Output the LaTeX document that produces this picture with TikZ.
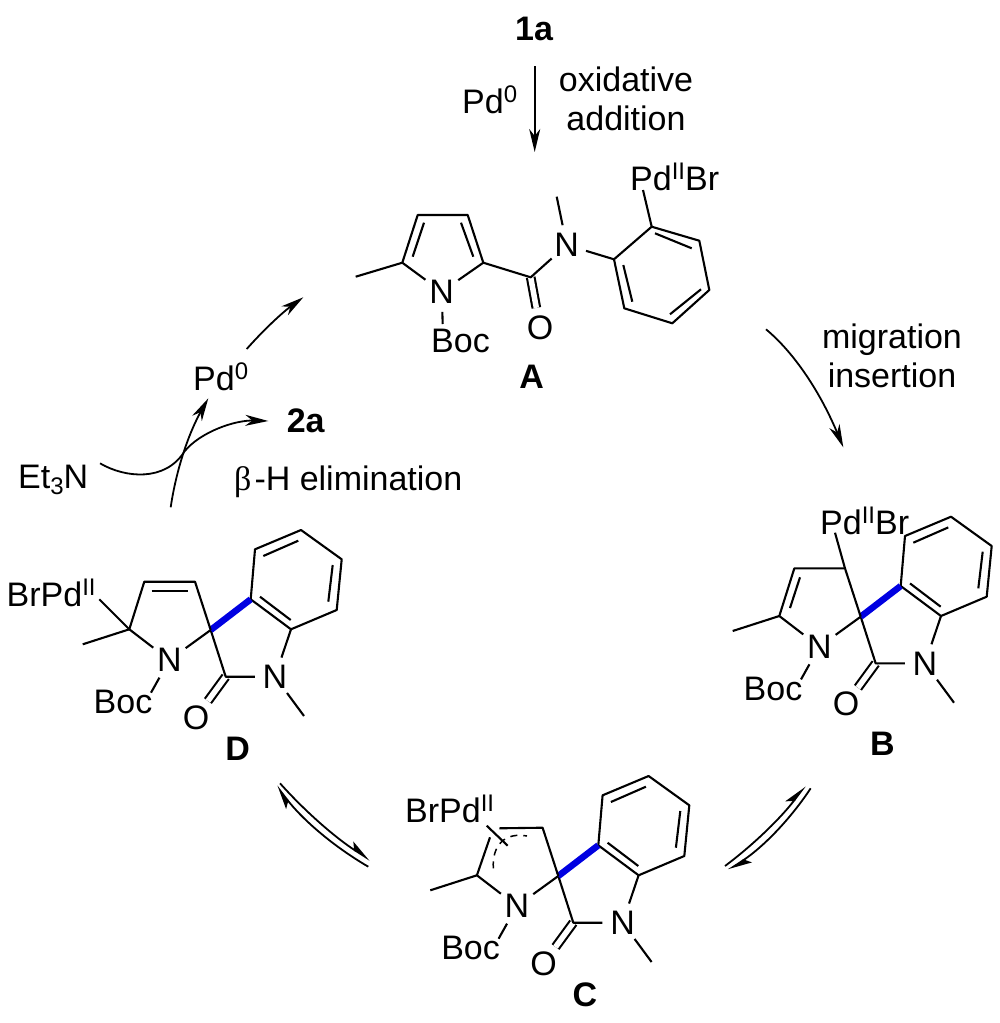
\documentclass[tikz,border=0pt]{standalone}
\usepackage{fontspec}
\setmainfont{Liberation Sans}
\newfontfamily\betafont{Liberation Serif}
\usetikzlibrary{arrows.meta}
\newcommand{\supr}[1]{\raisebox{11pt}{\fontsize{24}{24}\selectfont #1}}
\newcommand{\subr}[1]{\raisebox{-6pt}{\fontsize{24}{24}\selectfont #1}}
\tikzset{
  bond/.style={line width=2.1pt,line join=round},
  blue bond/.style={line width=6.5pt,draw=bluebond},
  cdouble/.style={line width=2.1pt,double,double distance=5.5pt},
  lbl/.style={inner sep=0pt,font=\fontsize{34}{40}\selectfont},
  cmpd/.style={inner sep=0pt,font=\fontsize{34}{40}\selectfont\bfseries},
  atom/.style={circle,inner sep=0pt,minimum size=40pt,font=\fontsize{34}{40}\selectfont},
  arr/.style={line width=1.8pt,-{Stealth[length=23pt,width=11pt,inset=7pt]}},
  harp/.style={line width=1.8pt,-{Stealth[harpoon,length=21pt,width=13pt,inset=5pt]}},
  pics/spirocore/.style={code={
    \coordinate (cme) at (82.7,644.3);
    \coordinate (c5) at (129.3,629.3);
    \coordinate (c4) at (144.3,581.7);
    \coordinate (c3) at (195,581.7);
    \coordinate (spiro) at (210.7,630);
    \coordinate (co) at (225.7,676.7);
    \coordinate (bt) at (151,692.7);
    \coordinate (me2) at (304,716);
    \coordinate (c3a) at (250.7,599.3);
    \coordinate (c7a) at (291,629.3);
    \coordinate (c7) at (336.7,610);
    \coordinate (c6) at (341.7,559.3);
    \coordinate (c5b) at (301,530);
    \coordinate (c4b) at (255,549.3);
    \node[atom] (N) at (169.3,660) {N};
    \node[atom] (N2) at (275,676.7) {N};
    \node[atom] (O) at (196,717.3) {O};
    \node[lbl,anchor=base west] (boc) at (93.5,713.3) {Boc};
    \draw[cdouble] (co) -- (O);
    \draw[bond] (c5) -- (cme);
    \draw[bond] (c5) -- (N);
    \draw[bond] (spiro) -- (N);
    \draw[bond] (N) -- (bt);
    \draw[bond] (spiro) -- (co) -- (N2);
    \draw[bond] (N2) -- (c7a);
    \draw[bond] (N2) -- (me2);
    \draw[bond] (c3a) -- (c7a) -- (c7) -- (c6) -- (c5b) -- (c4b) -- cycle;
    \draw[bond] (260,596.7) -- (290.7,620);
    \draw[bond] (328.3,601.7) -- (332.7,565);
    \draw[bond] (263.3,556) -- (298.3,540.7);
    \draw[blue bond] (spiro) -- (c3a);
  }}
}
\definecolor{bluebond}{RGB}{0,0,225}
\begin{document}
\begin{tikzpicture}[x=1pt,y=-1pt]
\useasboundingbox (0,0) rectangle (1000,1023);

% top
\node[cmpd,anchor=base] (t1a) at (534,40) {1a};
\coordinate (a1s) at (534.7,66);
\coordinate (a1e) at (534.7,152);
\draw[arr] (a1s) -- (a1e);
\node[lbl,anchor=base west] (pdz) at (462,113) {Pd\supr{0}};
\node[lbl,anchor=base] (ox) at (626,91) {oxidative};
\node[lbl,anchor=base] (add) at (626,130) {addition};

% structure A
\coordinate (ame) at (355.7,276.7);
\coordinate (ac5) at (402.3,262.7);
\coordinate (ac4) at (417.7,215);
\coordinate (ac3) at (467.7,215);
\coordinate (ac2) at (483.3,262.7);
\coordinate (aco) at (530.7,277.3);
\coordinate (ab1) at (651.7,226.7);
\coordinate (ab2) at (699.3,240.7);
\coordinate (ab3) at (709.3,290);
\coordinate (ab4) at (672.3,323.3);
\coordinate (ab5) at (624.3,308.3);
\coordinate (ab6) at (614,259.3);
\coordinate (amen) at (556.7,196.7);
\coordinate (apd) at (643,190);
\coordinate (abt) at (442.7,324);
\node[atom] (aN) at (441.7,291.7) {N};
\node[atom] (aN2) at (566.7,245) {N};
\node[atom] (aO) at (540,327.7) {O};
\node[lbl,anchor=base west] (aboc) at (431,352.7) {Boc};
\node[lbl,anchor=base west] (apdbr) at (630,190) {Pd\supr{II}Br};
\node[cmpd,anchor=base] (lA) at (531.7,388) {A};
\draw[cdouble] (aco) -- (aO);
\draw[bond] (ame) -- (ac5) -- (ac4) -- (ac3) -- (ac2) -- (aco) -- (aN2);
\draw[bond] (ac5) -- (aN);
\draw[bond] (ac2) -- (aN);
\draw[bond] (aN) -- (abt);
\draw[bond] (aN2) -- (amen);
\draw[bond] (aN2) -- (ab6);
\draw[bond] (ab1) -- (apd);
\draw[bond] (ab1) -- (ab2) -- (ab3) -- (ab4) -- (ab5) -- (ab6) -- cycle;
\draw[bond] (424,222.7) -- (412.7,256.7);
\draw[bond] (461,222.7) -- (473.3,256.7);
\draw[bond] (655,233.3) -- (691.7,248.3);
\draw[bond] (701,289.3) -- (670,314.3);
\draw[bond] (623.3,265) -- (632.3,301.7);

% migration arrow
\coordinate (ms) at (766,329.3);
\coordinate (me) at (843.3,447.3);
\draw[arr] (ms) .. controls (794.5,353) and (820.4,392.5) .. (me);
\node[lbl,anchor=base] (mig) at (892,348.3) {migration};
\node[lbl,anchor=base] (ins) at (892,387.3) {insertion};

% structure B
\pic (b) at (650,-13.3) {spirocore};
\coordinate (bp) at (835,532.7);
\node[lbl,anchor=base west] (bpdbr) at (820,534.3) {Pd\supr{II}Br};
\node[cmpd,anchor=base] (lB) at (882.3,755) {B};
\draw[bond] (bc5) -- (bc4) -- (bc3) -- (bspiro);
\draw[bond] (bc3) -- (bp);
\draw[bond] (800,577.3) -- (790,608);

% structure C
\pic (c) at (347.6,246) {spirocore};
\coordinate (cp) at (486.7,825.7);
\coordinate (cp2) at (507.7,845.7);
\coordinate (ctl) at (490,837.3);
\coordinate (ctr) at (499.3,828.3);
\node[lbl,anchor=base west] (cbrpd) at (405,822.7) {BrPd\supr{II}};
\node[cmpd,anchor=base] (lC) at (585,1006) {C};
\draw[bond] (cc5) -- (ctl);
\draw[bond] (ctr) -- (cc3) -- (cspiro);
\draw[bond] (cp) -- (cp2);
\draw[line width=1.5pt,dash pattern=on 7pt off 6pt] (493.3,868.3) .. controls (492,845) and (505,832) .. (527,836);

% structure D
\pic (d) at (0,0) {spirocore};
\coordinate (dp) at (99.3,599.3);
\node[lbl,anchor=base west] (dbrpd) at (6.5,606.7) {BrPd\supr{II}};
\node[cmpd,anchor=base] (lD) at (237.7,760) {D};
\draw[bond] (dc5) -- (dc4) -- (dc3) -- (dspiro);
\draw[bond] (dc5) -- (dp);
\draw[bond] (151.7,590.7) -- (188.3,590.7);

% equilibria
\coordinate (e1a) at (280,783.3);
\coordinate (e1b) at (370,860);
\coordinate (e2a) at (368.3,866.7);
\coordinate (e2b) at (276.7,786);
\draw[harp] (e1a) .. controls (306.5,812.9) and (336.5,838.5) .. (e1b);
\draw[harp] (e2a) .. controls (332.6,845.9) and (302,819) .. (e2b);
\coordinate (e3a) at (725,866);
\coordinate (e3b) at (805,786);
\coordinate (e4a) at (810.7,788.3);
\coordinate (e4b) at (728.3,870);
\draw[harp] (e3a) .. controls (755.5,843.1) and (782.1,816.5) .. (e3b);
\draw[harp] (e4a) .. controls (788.9,821.2) and (761.4,848.4) .. (e4b);

% left part
\node[lbl,anchor=base west] (pd0) at (193,390) {Pd\supr{0}};
\node[cmpd,anchor=base] (t2a) at (305.7,432.7) {2a};
\node[lbl,anchor=base west] (et) at (18,488.3) {Et\subr{3}N};
\node[lbl,anchor=base west] (beta) at (234,490.7) {{\betafont β}\kern3pt-H elimination};
\coordinate (p1s) at (246.7,349);
\coordinate (p1e) at (303.3,297.3);
\draw[arr] (p1s) .. controls (263.8,329.7) and (282.5,312.4) .. (p1e);
\coordinate (p2s) at (170.7,507.3);
\coordinate (p2e) at (208.3,398.3);
\draw[arr] (p2s) .. controls (176.2,469.5) and (188.8,433) .. (p2e);
\coordinate (p3s) at (100,463.3);
\coordinate (p3m) at (184.3,451.7);
\coordinate (p3e) at (268.3,421);
\draw[arr] (p3s) .. controls (125,478) and (165,482) .. (p3m) .. controls (200,432) and (235,420) .. (p3e);
\end{tikzpicture}
\end{document}
